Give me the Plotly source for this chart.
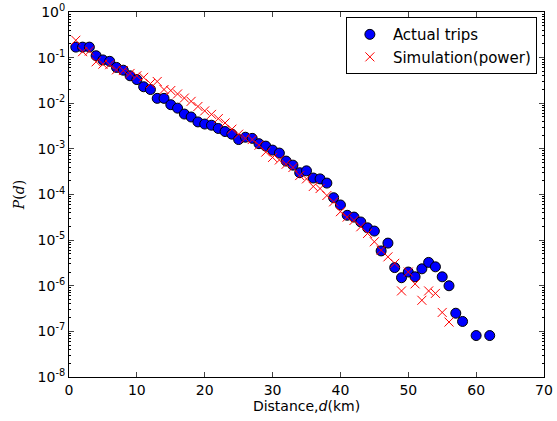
import plotly.graph_objects as go

# Actual trips
actual_x = [1, 2, 3, 4, 5, 6, 7, 8, 9, 10, 11, 12, 13, 14, 15, 16, 17, 18, 19, 20,
            21, 22, 23, 24, 25, 26, 27, 28, 29, 30, 31, 32, 33, 34, 35, 36, 37, 38, 39, 40,
            41, 42, 43, 44, 45, 46, 47, 48, 49, 50, 51, 52, 53, 54, 55, 56, 57, 58, 60, 62]
actual_y = [0.17, 0.17, 0.17, 0.11, 0.089, 0.083, 0.061, 0.053, 0.040, 0.033,
            0.023, 0.020, 0.0128, 0.0128, 0.0093, 0.0078, 0.0058, 0.0050, 0.0039, 0.0035,
            0.0033, 0.0028, 0.0024, 0.0021, 0.0016, 0.0018, 0.0017, 0.0013, 0.00115, 0.00094,
            0.00081, 0.00054, 0.00044, 0.00030, 0.00033, 0.00023, 0.00022, 0.000178, 8.5e-5, 5.9e-5,
            3.5e-5, 3.2e-5, 2.5e-5, 1.86e-5, 1.58e-5, 5.8e-6, 8.6e-6, 2.5e-6, 1.5e-6, 2.0e-6,
            1.57e-6, 2.35e-6, 3.25e-6, 2.6e-6, 1.57e-6, 1.0e-6, 2.5e-7, 1.65e-7, 8.1e-8, 8.1e-8]

# Simulation (power)
sim_x = list(range(1, 57))
sim_y = [0.24, 0.135, 0.14, 0.081, 0.072, 0.070, 0.054, 0.052, 0.045, 0.040,
         0.037, 0.027, 0.030, 0.020, 0.019, 0.016, 0.013, 0.011, 0.0085, 0.0068,
         0.0057, 0.0046, 0.0037, 0.0027, 0.0021, 0.0017, 0.0016, 0.0012, 0.00085, 0.00065,
         0.00057, 0.00046, 0.00039, 0.00026, 0.00022, 0.00015, 0.000135, 9.5e-5, 6.9e-5, 4.2e-5,
         3.2e-5, 2.7e-5, 1.96e-5, 1.4e-5, 9.2e-6, 6.0e-6, 4.3e-6, 3.1e-6, 7.7e-7, 2.0e-6,
         1.1e-6, 4.8e-7, 7.7e-7, 6.8e-7, 2.6e-7, 1.6e-7]

x_ticks = [0, 10, 20, 30, 40, 50, 60, 70]
y_tickvals = [1, 1e-1, 1e-2, 1e-3, 1e-4, 1e-5, 1e-6, 1e-7, 1e-8]
y_ticktext = ["10<sup>0</sup>", "10<sup>-1</sup>", "10<sup>-2</sup>", "10<sup>-3</sup>",
              "10<sup>-4</sup>", "10<sup>-5</sup>", "10<sup>-6</sup>", "10<sup>-7</sup>",
              "10<sup>-8</sup>"]

font = "DejaVu Sans"

fig = go.Figure()
fig.add_trace(go.Scatter(
    x=actual_x, y=actual_y, mode="markers", name="Actual trips",
    marker=dict(symbol="circle", size=10, color="#0000ff",
                line=dict(color="black", width=1)),
))
fig.add_trace(go.Scatter(
    x=sim_x, y=sim_y, mode="markers", name="Simulation(power)",
    marker=dict(symbol="x-thin", size=9, color="red",
                line=dict(color="red", width=1)),
))

fig.update_layout(
    width=557, height=421,
    margin=dict(l=69, r=13, t=12, b=44, autoexpand=False),
    paper_bgcolor="white", plot_bgcolor="white",
    font=dict(family=font, size=14, color="black"),
    showlegend=True,
    legend=dict(x=0.985, y=0.986, xanchor="right", yanchor="top",
                bgcolor="white", bordercolor="black", borderwidth=1,
                itemwidth=36, tracegroupgap=0,
                font=dict(family=font, size=15)),
    xaxis=dict(
        range=[0, 70], tickvals=x_ticks, ticks="inside", ticklen=5,
        showline=True, linecolor="black", linewidth=1, mirror="ticks",
        showgrid=False, zeroline=False, automargin=False,
        title=dict(text="Distance,<i>d</i>(km)", standoff=0,
                   font=dict(family=font, size=14)),
        tickfont=dict(family=font, size=14),
    ),
    yaxis=dict(
        type="log", range=[-8, 0], tickvals=y_tickvals, ticktext=y_ticktext,
        ticks="inside", ticklen=5, ticklabeloverflow="allow",
        minor=dict(ticks="inside", ticklen=2, tickcolor="black", showgrid=False,
                   tickvals=[m * 10 ** e for e in range(-8, 0) for m in range(2, 10)]),
        showline=True, linecolor="black", linewidth=1, mirror="ticks",
        showgrid=False, zeroline=False, automargin=False,
        title=dict(text="<i>P</i>(<i>d</i>)", standoff=9,
                   font=dict(family="DejaVu Serif", size=14)),
        tickfont=dict(family=font, size=14),
    ),
)

fig.write_html("out.html", config={"displayModeBar": False},
               post_script="document.body.style.margin='0';")
